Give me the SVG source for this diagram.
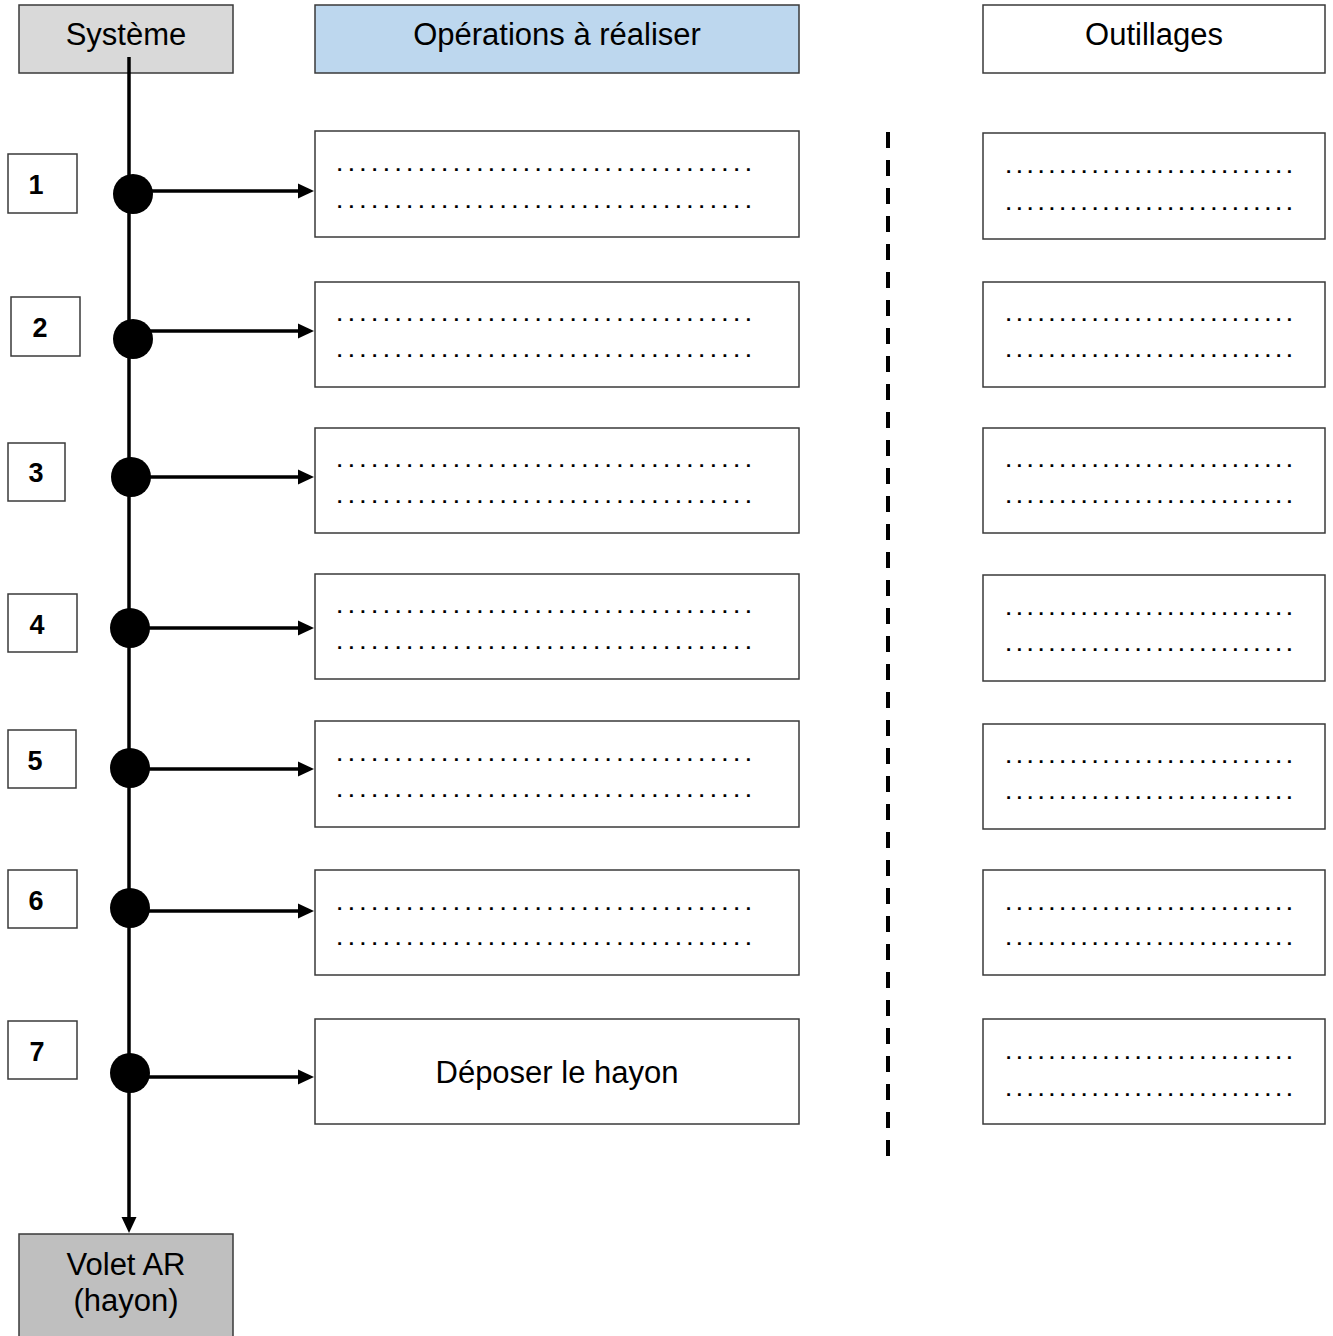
<svg xmlns="http://www.w3.org/2000/svg" width="1333" height="1336" viewBox="0 0 1333 1336">
<style>
.box{stroke:#3a3a3a;stroke-width:1.5;fill:#fff}
.t{font-family:"Liberation Sans",Arial,sans-serif;font-size:31px;fill:#000;text-anchor:middle}
.n{font-family:"Liberation Sans",Arial,sans-serif;font-size:27px;font-weight:bold;fill:#000;text-anchor:middle}
.d{font-family:"Liberation Sans",Arial,sans-serif;font-size:19px;font-weight:bold;fill:#000}
.ln{stroke:#000;stroke-width:3.5;fill:none}
.ah{fill:#000}
</style>
<defs>
<path id="arrR" d="M-16,-7.5 L0,0 L-16,7.5 z"/>
</defs>
<g id="header-systeme"><rect class="box" x="19" y="5" width="214" height="68" style="fill:#d9d9d9"/><text class="t" x="126" y="45">Système</text></g>
<g id="header-operations"><rect class="box" x="315" y="5" width="484" height="68" style="fill:#bdd7ee"/><text class="t" x="557" y="45">Opérations à réaliser</text></g>
<g id="header-outillages"><rect class="box" x="983" y="5" width="342" height="68"/><text class="t" x="1154" y="45">Outillages</text></g>
<g id="volet"><rect class="box" x="19" y="1234" width="214" height="110" style="fill:#bfbfbf"/><text class="t" x="126" y="1275">Volet AR</text><text class="t" x="126" y="1311">(hayon)</text></g>
<g id="connectors">
<line class="ln" x1="129" y1="57" x2="129" y2="1220"/>
<use href="#arrR" class="ah" transform="translate(129,1233) rotate(90)"/>
<line class="ln" x1="133" y1="191" x2="300" y2="191"/><use href="#arrR" class="ah" transform="translate(314,191)"/>
<line class="ln" x1="133" y1="331" x2="300" y2="331"/><use href="#arrR" class="ah" transform="translate(314,331)"/>
<line class="ln" x1="131" y1="477" x2="300" y2="477"/><use href="#arrR" class="ah" transform="translate(314,477)"/>
<line class="ln" x1="130" y1="628" x2="300" y2="628"/><use href="#arrR" class="ah" transform="translate(314,628)"/>
<line class="ln" x1="130" y1="769" x2="300" y2="769"/><use href="#arrR" class="ah" transform="translate(314,769)"/>
<line class="ln" x1="130" y1="911" x2="300" y2="911"/><use href="#arrR" class="ah" transform="translate(314,911)"/>
<line class="ln" x1="130" y1="1077" x2="300" y2="1077"/><use href="#arrR" class="ah" transform="translate(314,1077)"/>
<circle cx="133" cy="194" r="20"/>
<circle cx="133" cy="339" r="20"/>
<circle cx="131" cy="477" r="20"/>
<circle cx="130" cy="628" r="20"/>
<circle cx="130" cy="768" r="20"/>
<circle cx="130" cy="908" r="20"/>
<circle cx="130" cy="1073" r="20"/>
</g>
<g id="separator"><line x1="888" y1="132" x2="888" y2="1156" stroke="#000" stroke-width="4" stroke-dasharray="16 12"/></g>
<g id="num1"><rect class="box" x="8" y="154" width="69" height="59"/><text class="n" x="36" y="194">1</text></g>
<g id="num2"><rect class="box" x="11" y="297" width="69" height="59"/><text class="n" x="40" y="337">2</text></g>
<g id="num3"><rect class="box" x="8" y="443" width="57" height="58"/><text class="n" x="36" y="482">3</text></g>
<g id="num4"><rect class="box" x="8" y="594" width="69" height="58"/><text class="n" x="37" y="634">4</text></g>
<g id="num5"><rect class="box" x="8" y="730" width="68" height="58"/><text class="n" x="35" y="770">5</text></g>
<g id="num6"><rect class="box" x="8" y="870" width="69" height="58"/><text class="n" x="36" y="910">6</text></g>
<g id="num7"><rect class="box" x="8" y="1021" width="69" height="58"/><text class="n" x="37" y="1061">7</text></g>
<g id="op1"><rect class="box" x="315" y="131" width="484" height="106"/><text class="d" x="337" y="171" textLength="414" lengthAdjust="spacing">....................................</text><text class="d" x="337" y="208" textLength="414" lengthAdjust="spacing">....................................</text></g>
<g id="op2"><rect class="box" x="315" y="282" width="484" height="105"/><text class="d" x="337" y="321" textLength="414" lengthAdjust="spacing">....................................</text><text class="d" x="337" y="357" textLength="414" lengthAdjust="spacing">....................................</text></g>
<g id="op3"><rect class="box" x="315" y="428" width="484" height="105"/><text class="d" x="337" y="467" textLength="414" lengthAdjust="spacing">....................................</text><text class="d" x="337" y="503" textLength="414" lengthAdjust="spacing">....................................</text></g>
<g id="op4"><rect class="box" x="315" y="574" width="484" height="105"/><text class="d" x="337" y="613" textLength="414" lengthAdjust="spacing">....................................</text><text class="d" x="337" y="649" textLength="414" lengthAdjust="spacing">....................................</text></g>
<g id="op5"><rect class="box" x="315" y="721" width="484" height="106"/><text class="d" x="337" y="761" textLength="414" lengthAdjust="spacing">....................................</text><text class="d" x="337" y="797" textLength="414" lengthAdjust="spacing">....................................</text></g>
<g id="op6"><rect class="box" x="315" y="870" width="484" height="105"/><text class="d" x="337" y="910" textLength="414" lengthAdjust="spacing">....................................</text><text class="d" x="337" y="945" textLength="414" lengthAdjust="spacing">....................................</text></g>
<g id="op7"><rect class="box" x="315" y="1019" width="484" height="105"/><text class="t" x="557" y="1083">Déposer le hayon</text></g>
<g id="tool1"><rect class="box" x="983" y="133" width="342" height="106"/><text class="d" x="1006" y="173" textLength="286" lengthAdjust="spacing">...........................</text><text class="d" x="1006" y="210" textLength="286" lengthAdjust="spacing">...........................</text></g>
<g id="tool2"><rect class="box" x="983" y="282" width="342" height="105"/><text class="d" x="1006" y="321" textLength="286" lengthAdjust="spacing">...........................</text><text class="d" x="1006" y="357" textLength="286" lengthAdjust="spacing">...........................</text></g>
<g id="tool3"><rect class="box" x="983" y="428" width="342" height="105"/><text class="d" x="1006" y="467" textLength="286" lengthAdjust="spacing">...........................</text><text class="d" x="1006" y="503" textLength="286" lengthAdjust="spacing">...........................</text></g>
<g id="tool4"><rect class="box" x="983" y="575" width="342" height="106"/><text class="d" x="1006" y="615" textLength="286" lengthAdjust="spacing">...........................</text><text class="d" x="1006" y="651" textLength="286" lengthAdjust="spacing">...........................</text></g>
<g id="tool5"><rect class="box" x="983" y="724" width="342" height="105"/><text class="d" x="1006" y="763" textLength="286" lengthAdjust="spacing">...........................</text><text class="d" x="1006" y="799" textLength="286" lengthAdjust="spacing">...........................</text></g>
<g id="tool6"><rect class="box" x="983" y="870" width="342" height="105"/><text class="d" x="1006" y="910" textLength="286" lengthAdjust="spacing">...........................</text><text class="d" x="1006" y="945" textLength="286" lengthAdjust="spacing">...........................</text></g>
<g id="tool7"><rect class="box" x="983" y="1019" width="342" height="105"/><text class="d" x="1006" y="1059" textLength="286" lengthAdjust="spacing">...........................</text><text class="d" x="1006" y="1096" textLength="286" lengthAdjust="spacing">...........................</text></g>
</svg>
